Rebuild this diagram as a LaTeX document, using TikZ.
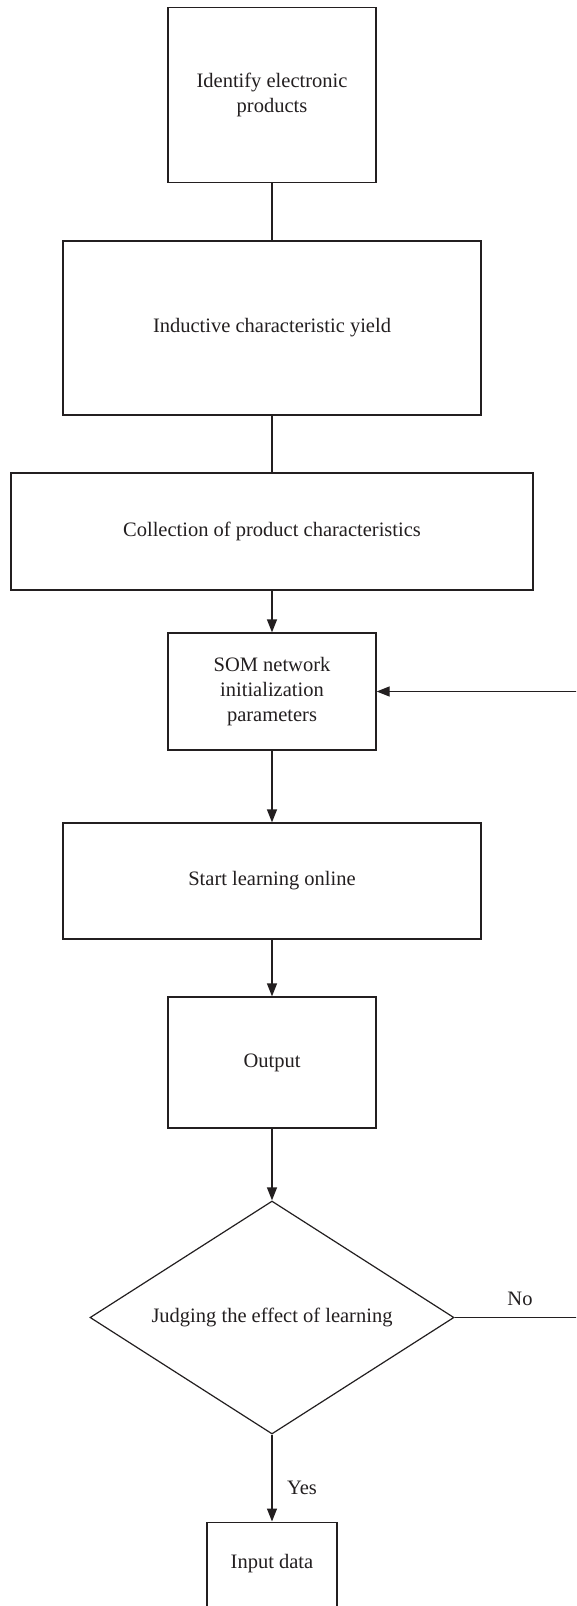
\documentclass[tikz,border=0pt]{standalone}
\usepackage{fontspec}
\setmainfont{Liberation Serif}
\usetikzlibrary{shapes.geometric,arrows.meta}
\definecolor{ink}{HTML}{231F20}
\begin{document}
\begin{tikzpicture}[x=1pt,y=-1pt,
  every node/.style={text=ink,font=\fontsize{20.5}{25}\selectfont},
  procbox/.style={draw=ink,line width=1.2pt,align=center,inner sep=0pt},
  decision/.style={draw=ink,line width=1.2pt,diamond,aspect=1.56,inner sep=0pt,
    minimum width=364pt,minimum height=233pt},
  link/.style={draw=ink,line width=1.2pt},
  flow/.style={link,-{Triangle[length=13pt,width=10pt]}},
  tag/.style={inner sep=0pt}]
\useasboundingbox (0,0) rectangle (576,1606);
\clip (0,0) rectangle (576,1606);
\fill[white] (0,0) rectangle (576,1606);

\node[procbox,minimum width=208pt,minimum height=175pt] (ident) at (272,95)
  {Identify electronic\\products};
\node[procbox,minimum width=418pt,minimum height=174pt] (induct) at (272,328)
  {Inductive characteristic yield};
\node[procbox,minimum width=522pt,minimum height=117pt] (collect) at (272,531.5)
  {Collection of product characteristics};
\node[procbox,minimum width=208pt,minimum height=117pt] (som) at (272,691.5)
  {SOM network\\initialization\\parameters};
\node[procbox,minimum width=418pt,minimum height=116pt] (learn) at (272,881)
  {Start learning online};
\node[procbox,minimum width=208pt,minimum height=131pt] (out) at (272,1062.5)
  {Output};
\node[decision] (judge) at (272,1317.5) {Judging the effect of learning};
\node[procbox,minimum width=130pt,minimum height=160pt,anchor=north,
  text depth=0pt] (input) at (272,1521.5) {};
\node at (272,1564) {Input data};

\draw[link] (ident) -- (induct);
\draw[link] (induct) -- (collect);
\draw[flow] (collect) -- (som);
\draw[flow] (som) -- (learn);
\draw[flow] (learn) -- (out);
\draw[flow] (out) -- (judge);
\draw[flow] (judge) -- (input);
\draw[flow] (judge.east) -- (590,1317.5) |- (som.east);

\node[tag] (no) at (520,1299) {No};
\node[tag] (yes) at (302,1488) {Yes};
\end{tikzpicture}
\end{document}
